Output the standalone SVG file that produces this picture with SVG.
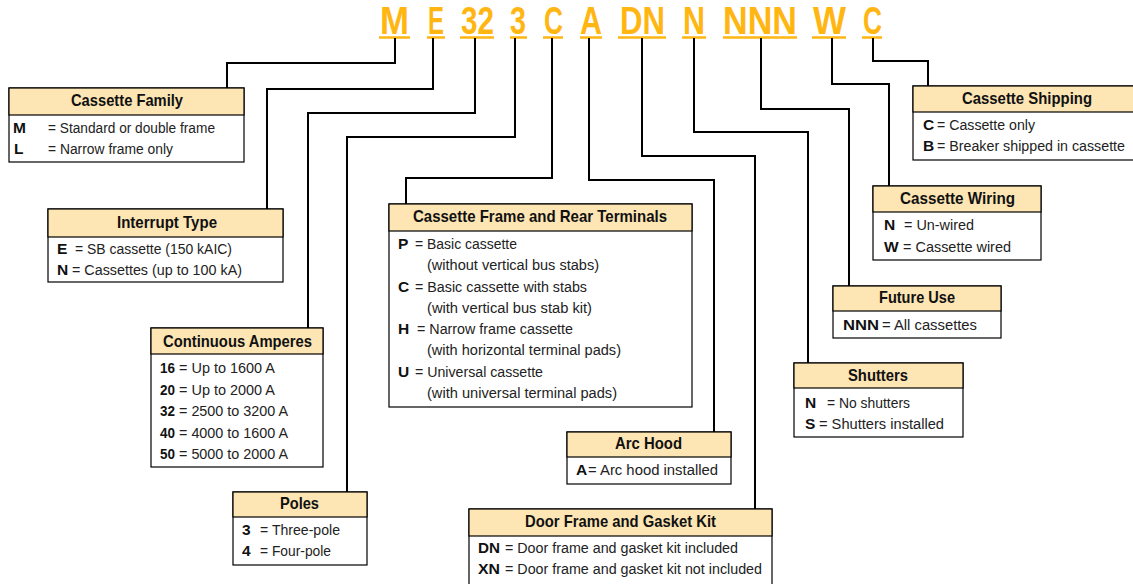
<svg xmlns="http://www.w3.org/2000/svg" width="1133" height="584" viewBox="0 0 1133 584">
<style>
.code{font-family:"Liberation Sans",Arial,sans-serif;font-weight:bold;font-size:38px;fill:#FFB612}
.ul{stroke:#FFB612;stroke-width:2.5;fill:none}
.conn path{stroke:#000;stroke-width:2;fill:none}
.box{fill:#fff;stroke:#000;stroke-width:1.2}
.hdr{fill:#FDE6B4;stroke:#000;stroke-width:1.2}
.t{font-family:"Liberation Sans",Arial,sans-serif;font-weight:bold;font-size:17px;fill:#111}
.b{font-family:"Liberation Sans",Arial,sans-serif;font-size:15.5px;fill:#222}
.k{font-family:"Liberation Sans",Arial,sans-serif;font-size:15.5px;font-weight:bold;fill:#111}
</style>
<g id="code">
<text class="code" x="380" y="34" textLength="29" lengthAdjust="spacingAndGlyphs">M</text>
<text class="code" x="428" y="34" textLength="16" lengthAdjust="spacingAndGlyphs">E</text>
<text class="code" x="461" y="34" textLength="33" lengthAdjust="spacingAndGlyphs">32</text>
<text class="code" x="510" y="34" textLength="16" lengthAdjust="spacingAndGlyphs">3</text>
<text class="code" x="544" y="34" textLength="19" lengthAdjust="spacingAndGlyphs">C</text>
<text class="code" x="580" y="34" textLength="22" lengthAdjust="spacingAndGlyphs">A</text>
<text class="code" x="620" y="34" textLength="45" lengthAdjust="spacingAndGlyphs">DN</text>
<text class="code" x="683" y="34" textLength="22" lengthAdjust="spacingAndGlyphs">N</text>
<text class="code" x="723" y="34" textLength="74" lengthAdjust="spacingAndGlyphs">NNN</text>
<text class="code" x="813" y="34" textLength="33" lengthAdjust="spacingAndGlyphs">W</text>
<text class="code" x="863" y="34" textLength="19" lengthAdjust="spacingAndGlyphs">C</text>
<path class="ul" d="M379 37.5H410M427 37.5H445M460 37.5H494M510 37.5H527M543 37.5H563M580 37.5H602M618 37.5H666M682 37.5H706M723 37.5H797M812 37.5H846M862 37.5H882"/>
</g>
<g class="conn" id="connectors">
<path d="M395 38V63H227V88"/>
<path d="M433 38V89H267V209"/>
<path d="M475 38V113H308V328"/>
<path d="M515 38V137H347V492"/>
<path d="M552 38V178H406V204"/>
<path d="M589 38V180H714V432"/>
<path d="M642 38V156H755V509"/>
<path d="M694 38V132H808V363"/>
<path d="M761 38V109H849V286"/>
<path d="M832 38V84H889V186"/>
<path d="M873 38V61H928V86"/>
</g>
<g id="cassette-family">
<rect class="box" x="9" y="88" width="235" height="74"/>
<rect class="hdr" x="9" y="88" width="235" height="27"/>
<text class="t" x="71" y="106" textLength="112" lengthAdjust="spacingAndGlyphs">Cassette Family</text>
<text class="k" x="13" y="133">M</text>
<text class="b" x="48" y="133" textLength="167" lengthAdjust="spacingAndGlyphs">= Standard or double frame</text>
<text class="k" x="14" y="154">L</text>
<text class="b" x="48" y="154" textLength="125" lengthAdjust="spacingAndGlyphs">= Narrow frame only</text>
</g>
<g id="interrupt-type">
<rect class="box" x="48" y="209" width="235" height="73"/>
<rect class="hdr" x="48" y="209" width="235" height="28"/>
<text class="t" x="117" y="228" textLength="100" lengthAdjust="spacingAndGlyphs">Interrupt Type</text>
<text class="k" x="57" y="254">E</text>
<text class="b" x="75" y="254" textLength="157" lengthAdjust="spacingAndGlyphs">= SB cassette (150 kAIC)</text>
<text class="k" x="57" y="275">N</text>
<text class="b" x="72" y="275" textLength="170" lengthAdjust="spacingAndGlyphs">= Cassettes (up to 100 kA)</text>
</g>
<g id="continuous-amperes">
<rect class="box" x="151" y="328" width="172" height="139"/>
<rect class="hdr" x="151" y="328" width="172" height="26"/>
<text class="t" x="163" y="347" textLength="149" lengthAdjust="spacingAndGlyphs">Continuous Amperes</text>
<text class="k" x="160" y="373" textLength="15" lengthAdjust="spacingAndGlyphs">16</text>
<text class="b" x="179" y="373" textLength="96" lengthAdjust="spacingAndGlyphs">= Up to 1600 A</text>
<text class="k" x="160" y="395" textLength="15" lengthAdjust="spacingAndGlyphs">20</text>
<text class="b" x="179" y="395" textLength="96" lengthAdjust="spacingAndGlyphs">= Up to 2000 A</text>
<text class="k" x="160" y="416" textLength="15" lengthAdjust="spacingAndGlyphs">32</text>
<text class="b" x="179" y="416" textLength="109" lengthAdjust="spacingAndGlyphs">= 2500 to 3200 A</text>
<text class="k" x="160" y="438" textLength="15" lengthAdjust="spacingAndGlyphs">40</text>
<text class="b" x="179" y="438" textLength="109" lengthAdjust="spacingAndGlyphs">= 4000 to 1600 A</text>
<text class="k" x="160" y="459" textLength="15" lengthAdjust="spacingAndGlyphs">50</text>
<text class="b" x="179" y="459" textLength="109" lengthAdjust="spacingAndGlyphs">= 5000 to 2000 A</text>
</g>
<g id="poles">
<rect class="box" x="233" y="492" width="134" height="73"/>
<rect class="hdr" x="233" y="492" width="134" height="25"/>
<text class="t" x="280" y="509" textLength="39" lengthAdjust="spacingAndGlyphs">Poles</text>
<text class="k" x="242" y="535">3</text>
<text class="b" x="260" y="535" textLength="80" lengthAdjust="spacingAndGlyphs">= Three-pole</text>
<text class="k" x="242" y="556">4</text>
<text class="b" x="260" y="556" textLength="71" lengthAdjust="spacingAndGlyphs">= Four-pole</text>
</g>
<g id="cassette-frame">
<rect class="box" x="389" y="204" width="303" height="203"/>
<rect class="hdr" x="389" y="204" width="303" height="27"/>
<text class="t" x="413" y="222" textLength="254" lengthAdjust="spacingAndGlyphs">Cassette Frame and Rear Terminals</text>
<text class="k" x="398" y="249">P</text>
<text class="b" x="415" y="249" textLength="102" lengthAdjust="spacingAndGlyphs">= Basic cassette</text>
<text class="b" x="427" y="270" textLength="172" lengthAdjust="spacingAndGlyphs">(without vertical bus stabs)</text>
<text class="k" x="398" y="292">C</text>
<text class="b" x="415" y="292" textLength="172" lengthAdjust="spacingAndGlyphs">= Basic cassette with stabs</text>
<text class="b" x="427" y="313" textLength="165" lengthAdjust="spacingAndGlyphs">(with vertical bus stab kit)</text>
<text class="k" x="398" y="334">H</text>
<text class="b" x="417" y="334" textLength="156" lengthAdjust="spacingAndGlyphs">= Narrow frame cassette</text>
<text class="b" x="427" y="355" textLength="194" lengthAdjust="spacingAndGlyphs">(with horizontal terminal pads)</text>
<text class="k" x="398" y="377">U</text>
<text class="b" x="415" y="377" textLength="128" lengthAdjust="spacingAndGlyphs">= Universal cassette</text>
<text class="b" x="427" y="398" textLength="190" lengthAdjust="spacingAndGlyphs">(with universal terminal pads)</text>
</g>
<g id="arc-hood">
<rect class="box" x="567" y="432" width="164" height="52"/>
<rect class="hdr" x="567" y="432" width="164" height="25"/>
<text class="t" x="615" y="449" textLength="67" lengthAdjust="spacingAndGlyphs">Arc Hood</text>
<text class="k" x="576" y="475">A</text>
<text class="b" x="588" y="475" textLength="130" lengthAdjust="spacingAndGlyphs">= Arc hood installed</text>
</g>
<g id="door-frame">
<rect class="box" x="469" y="509" width="303" height="85"/>
<rect class="hdr" x="469" y="509" width="303" height="27"/>
<text class="t" x="525" y="527" textLength="191" lengthAdjust="spacingAndGlyphs">Door Frame and Gasket Kit</text>
<text class="k" x="478" y="553" textLength="22" lengthAdjust="spacingAndGlyphs">DN</text>
<text class="b" x="505" y="553" textLength="233" lengthAdjust="spacingAndGlyphs">= Door frame and gasket kit included</text>
<text class="k" x="478" y="574" textLength="22" lengthAdjust="spacingAndGlyphs">XN</text>
<text class="b" x="505" y="574" textLength="257" lengthAdjust="spacingAndGlyphs">= Door frame and gasket kit not included</text>
</g>
<g id="cassette-shipping">
<rect class="box" x="913" y="86" width="230" height="74"/>
<rect class="hdr" x="913" y="86" width="230" height="26"/>
<text class="t" x="962" y="104" textLength="130" lengthAdjust="spacingAndGlyphs">Cassette Shipping</text>
<text class="k" x="923" y="130">C</text>
<text class="b" x="937" y="130" textLength="98" lengthAdjust="spacingAndGlyphs">= Cassette only</text>
<text class="k" x="923" y="151">B</text>
<text class="b" x="937" y="151" textLength="188" lengthAdjust="spacingAndGlyphs">= Breaker shipped in cassette</text>
</g>
<g id="cassette-wiring">
<rect class="box" x="873" y="186" width="168" height="74"/>
<rect class="hdr" x="873" y="186" width="168" height="26"/>
<text class="t" x="900" y="204" textLength="115" lengthAdjust="spacingAndGlyphs">Cassette Wiring</text>
<text class="k" x="884" y="230">N</text>
<text class="b" x="904" y="230" textLength="70" lengthAdjust="spacingAndGlyphs">= Un-wired</text>
<text class="k" x="884" y="252">W</text>
<text class="b" x="903" y="252" textLength="108" lengthAdjust="spacingAndGlyphs">= Cassette wired</text>
</g>
<g id="future-use">
<rect class="box" x="833" y="286" width="168" height="52"/>
<rect class="hdr" x="833" y="286" width="168" height="25"/>
<text class="t" x="879" y="303" textLength="76" lengthAdjust="spacingAndGlyphs">Future Use</text>
<text class="k" x="843" y="330" textLength="36" lengthAdjust="spacingAndGlyphs">NNN</text>
<text class="b" x="882" y="330" textLength="95" lengthAdjust="spacingAndGlyphs">= All cassettes</text>
</g>
<g id="shutters">
<rect class="box" x="794" y="363" width="169" height="74"/>
<rect class="hdr" x="794" y="363" width="169" height="25"/>
<text class="t" x="848" y="381" textLength="60" lengthAdjust="spacingAndGlyphs">Shutters</text>
<text class="k" x="805" y="408">N</text>
<text class="b" x="827" y="408" textLength="83" lengthAdjust="spacingAndGlyphs">= No shutters</text>
<text class="k" x="805" y="429">S</text>
<text class="b" x="819" y="429" textLength="125" lengthAdjust="spacingAndGlyphs">= Shutters installed</text>
</g>
</svg>
